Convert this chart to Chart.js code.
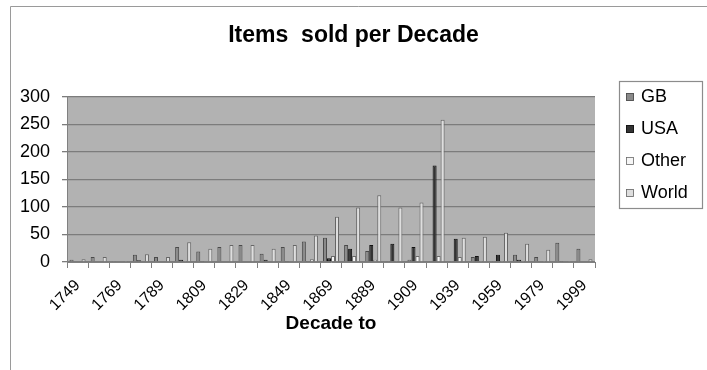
<!DOCTYPE html>
<html>
<head>
<meta charset="utf-8">
<script src="https://cdn.jsdelivr.net/npm/chart.js@4.4.1/dist/chart.umd.min.js"></script>
<style>
  html, body { margin: 0; padding: 0; background: #ffffff; }
  #wrap { width: 707px; height: 370px; position: relative; }
</style>
</head>
<body>
<div id="wrap"><canvas id="chart" width="707" height="370"></canvas></div>
<script>
// Decade end years (category axis)
const decades = ['1749','1759','1769','1779','1789','1799','1809','1819','1829','1839',
                 '1849','1859','1869','1879','1889','1899','1909','1929','1939','1949',
                 '1959','1969','1979','1989','1999'];

// Items sold per decade, by market
const gbSold    = [4, 9, 2, 13, 9, 27, 19, 27, 31, 15, 27, 37, 44, 31, 20, 2, 4, 1, 2, 9, 1, 13, 9, 35, 24];
const usaSold   = [0, 0, 0, 3, 0, 4, 2, 0, 0, 4, 2, 2, 7, 24, 31, 33, 27, 175, 42, 11, 13, 4, 0, 2, 0];
const otherSold = [0, 0, 0, 0, 0, 1, 0, 0, 0, 0, 0, 5, 11, 11, 4, 1, 11, 11, 9, 2, 1, 1, 2, 0, 0];
const worldSold = [5, 9, 2, 14, 9, 36, 24, 31, 31, 24, 31, 48, 82, 99, 121, 99, 108, 258, 44, 46, 53, 33, 22, 2, 5];

// Value axis ticks
const yTicks = [0, 50, 100, 150, 200, 250, 300];

const FONT = '"Liberation Sans", Arial, sans-serif';

const seriesStyle = [
  { label: 'GB',    data: gbSold,    fill: '#8a8a8a', edge: '#4a4a4a' },
  { label: 'USA',   data: usaSold,   fill: '#333333', edge: '#111111' },
  { label: 'Other', data: otherSold, fill: '#f6f6f6', edge: '#6a6a6a' },
  { label: 'World', data: worldSold, fill: '#dedede', edge: '#666666' }
];

// Gray plot background and the outer frame lines
const plotBackground = {
  id: 'plotBackground',
  beforeDraw(chart) {
    const { ctx, chartArea: a } = chart;
    ctx.save();
    ctx.fillStyle = '#b2b2b2';
    ctx.fillRect(a.left, a.top, a.right - a.left, a.bottom - a.top);
    ctx.strokeStyle = '#9a9a9a';
    ctx.lineWidth = 1;
    ctx.beginPath();
    ctx.moveTo(10.5, 370);
    ctx.lineTo(10.5, 6.5);
    ctx.lineTo(707, 6.5);
    ctx.stroke();
    ctx.restore();
  }
};

// Boxed legend, registered as a right-hand layout box so the title stays centred on the canvas
const boxedLegend = {
  id: 'boxedLegend',
  beforeInit(chart) {
    const box = {
      position: 'right',
      weight: 1000,
      fullSize: false,
      options: { stackWeight: 1 },
      left: 0, top: 0, right: 0, bottom: 0, width: 0, height: 0,
      isHorizontal() { return false; },
      update(maxWidth, maxHeight) {
        this.width = 112;
        this.height = maxHeight;
        return { width: this.width, height: this.height };
      },
      draw() {
        const ctx = chart.ctx;
        ctx.save();
        ctx.strokeStyle = '#8c8c8c';
        ctx.lineWidth = 1.2;
        ctx.strokeRect(619.5, 81.5, 83, 127);
        ctx.font = '18px ' + FONT;
        ctx.textBaseline = 'middle';
        ctx.textAlign = 'left';
        chart.data.datasets.forEach((ds, i) => {
          const cy = 96 + i * 32;
          ctx.fillStyle = ds.backgroundColor;
          ctx.fillRect(626, cy - 3, 8, 8);
          ctx.strokeStyle = ds.borderColor;
          ctx.lineWidth = 0.8;
          ctx.strokeRect(626.5, cy - 2.5, 7, 7);
          ctx.fillStyle = '#000000';
          ctx.fillText(ds.label, 641, cy + 1);
        });
        ctx.restore();
      }
    };
    Chart.layouts.addBox(chart, box);
  }
};

new Chart(document.getElementById('chart'), {
  type: 'bar',
  data: {
    labels: decades,
    datasets: seriesStyle.map(s => ({
      label: s.label,
      data: s.data,
      backgroundColor: s.fill,
      borderColor: s.edge,
      borderWidth: 1,
      categoryPercentage: 0.76,
      barPercentage: 1.0
    }))
  },
  options: {
    responsive: false,
    animation: false,
    devicePixelRatio: 1,
    layout: { padding: 0 },
    plugins: {
      legend: { display: false },
      tooltip: { enabled: false },
      title: {
        display: true,
        text: 'Items  sold per Decade',
        color: '#000000',
        font: { family: FONT, size: 23, weight: 'bold' },
        padding: { top: 22, bottom: 47 }
      }
    },
    scales: {
      x: {
        grid: {
          offset: true,
          drawOnChartArea: false,
          drawTicks: true,
          tickLength: 6,
          color: '#808080'
        },
        border: { display: true, color: '#808080', width: 1 },
        ticks: {
          autoSkip: false,
          minRotation: 45,
          maxRotation: 45,
          color: '#000000',
          font: { family: FONT, size: 16 },
          padding: 8,
          callback: (v, i) => (i % 2 === 0 ? decades[i] : '')
        },
        title: {
          display: true,
          text: 'Decade to',
          color: '#000000',
          font: { family: FONT, size: 19, weight: 'bold' },
          padding: { top: 0, bottom: 35 }
        },
        afterFit(scale) { scale.height = 108; }
      },
      y: {
        min: 0,
        max: 300,
        afterBuildTicks(scale) { scale.ticks = yTicks.map(v => ({ value: v })); },
        grid: {
          color: '#7c7c7c',
          lineWidth: 1.3,
          tickLength: 5,
          drawTicks: true
        },
        border: { display: true, color: '#808080', width: 1 },
        ticks: {
          color: '#000000',
          font: { family: FONT, size: 18 },
          padding: 12
        },
        afterFit(scale) { scale.width = 67; }
      }
    }
  },
  plugins: [plotBackground, boxedLegend]
});
</script>
</body>
</html>
